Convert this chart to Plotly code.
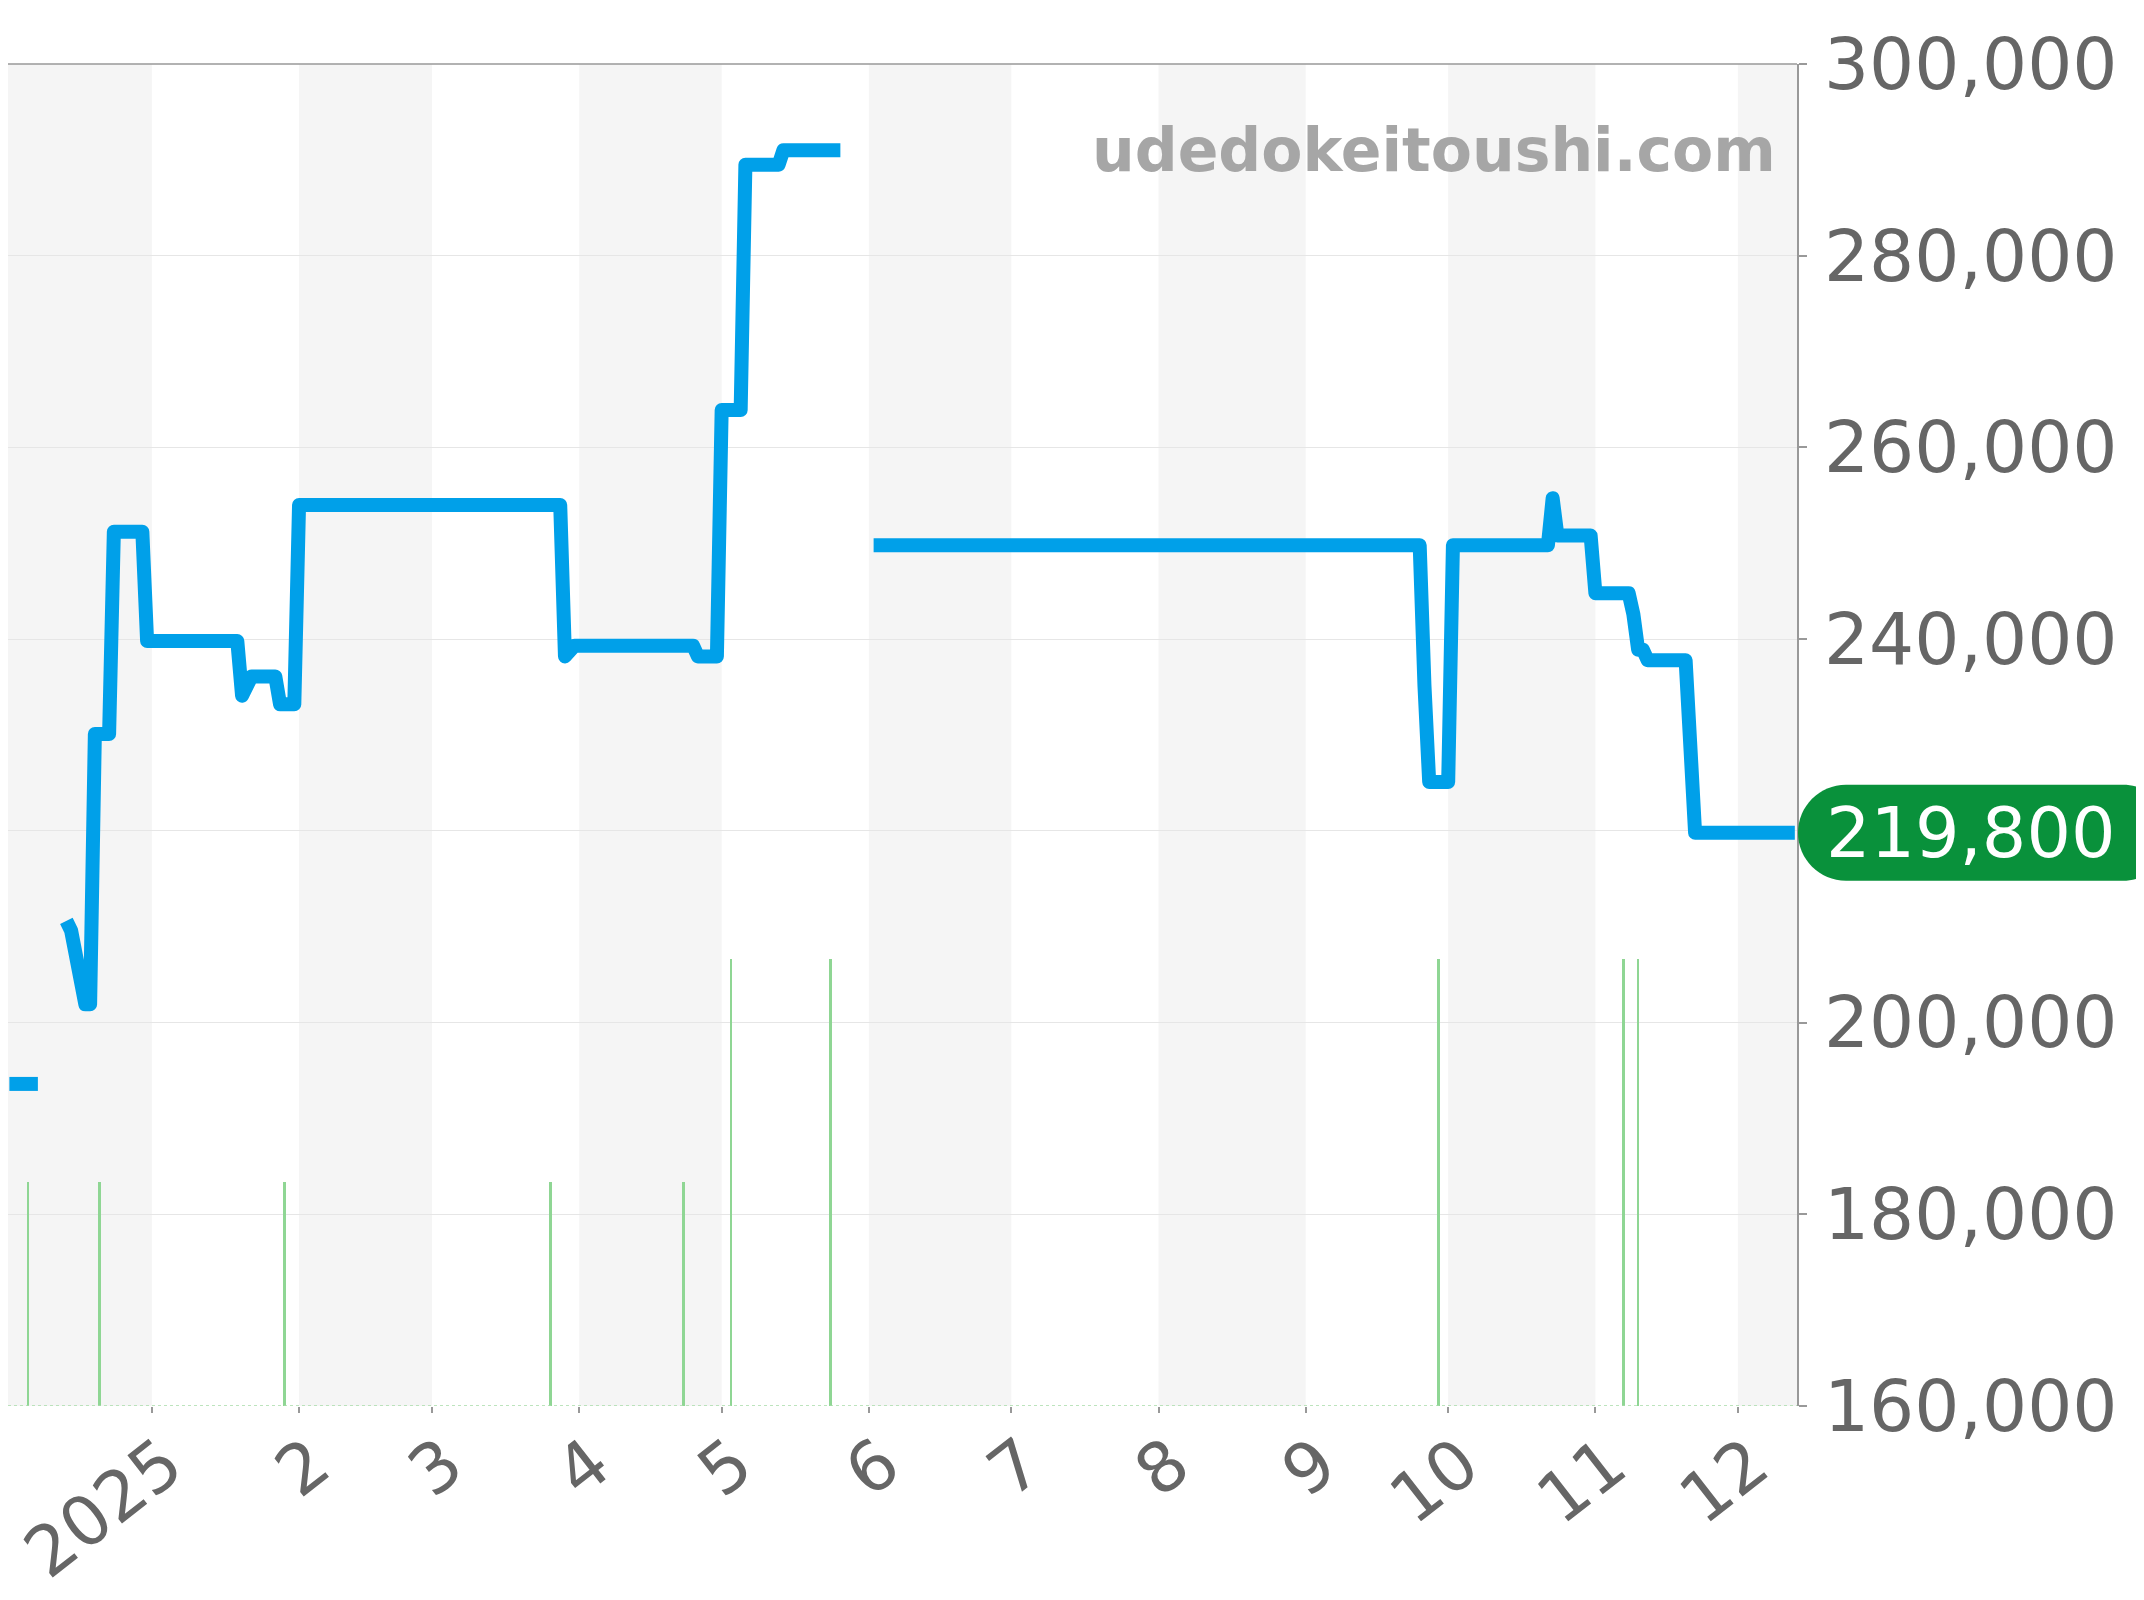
import plotly.graph_objects as go

# ---------------- data ----------------
price_dates = [
    "2024-12-02", "2024-12-08", None,
    "2024-12-14", "2024-12-15", "2024-12-18", "2024-12-19", "2024-12-20",
    "2024-12-23", "2024-12-24", "2024-12-30", "2024-12-31",
    "2025-01-19", "2025-01-20", "2025-01-22", "2025-01-27", "2025-01-28",
    "2025-01-31", "2025-02-01", "2025-03-28", "2025-03-29", "2025-03-31",
    "2025-04-25", "2025-04-26", "2025-04-30", "2025-05-01", "2025-05-05",
    "2025-05-06", "2025-05-13", "2025-05-14", "2025-05-26", None,
    "2025-06-02", "2025-09-25", "2025-09-26", "2025-09-27", "2025-10-01",
    "2025-10-02", "2025-10-22", "2025-10-23", "2025-10-24", "2025-10-31",
    "2025-11-01", "2025-11-08", "2025-11-09", "2025-11-10", "2025-11-11",
    "2025-11-12", "2025-11-20", "2025-11-22", "2025-12-13",
]
price_values = [
    193600, 193600, None,
    210600, 209600, 201900, 201900, 230100,
    230100, 251200, 251200, 239800,
    239800, 234100, 236100, 236100, 233200,
    233200, 254000, 254000, 238200, 239300,
    239300, 238200, 238200, 263900, 263900,
    289500, 289500, 291000, 291000, None,
    249800, 249800, 235200, 225100, 225100,
    249800, 249800, 254700, 250800, 250800,
    244800, 244800, 242600, 238900, 238900,
    237800, 237800, 219800, 219800,
]

count_dates = ["2024-12-06", "2024-12-21", "2025-01-29", "2025-03-26", "2025-04-23",
               "2025-05-03", "2025-05-24", "2025-09-29", "2025-11-07", "2025-11-10"]
count_values = [1, 1, 1, 1, 1, 2, 2, 2, 2, 2]

month_ticks = ["2025-01-01", "2025-02-01", "2025-03-01", "2025-04-01", "2025-05-01",
               "2025-06-01", "2025-07-01", "2025-08-01", "2025-09-01", "2025-10-01",
               "2025-11-01", "2025-12-01"]
month_labels = ["2025", "2", "3", "4", "5", "6", "7", "8", "9", "10", "11", "12"]

x_range = ["2024-12-01 17:00", "2025-12-13 11:00"]
y_range = [160000, 300000]
y_ticks = [160000, 180000, 200000, 220000, 240000, 260000, 280000, 300000]
last_price = 219800
watermark = "udedokeitoushi.com"

# shaded (alternate) months
shade_spans = [
    (x_range[0], "2025-01-01"), ("2025-02-01", "2025-03-01"), ("2025-04-01", "2025-05-01"),
    ("2025-06-01", "2025-07-01"), ("2025-08-01", "2025-09-01"), ("2025-10-01", "2025-11-01"),
    ("2025-12-01", x_range[1]),
]

# ---------------- layout geometry ----------------
OFF = 8                      # page body margin in the browser
W, H = 2144, 1600
# wanted plot box in page pixels
PX0, PX1, PY0, PY1 = 7, 1797, 64, 1406
ML = max(PX0 - OFF, 0)
MT = PY0 - OFF
MR = W - (PX1 - OFF)
MB = H - (PY1 - OFF)
PW = W - ML - MR
PH = H - MT - MB


def page_x(px):
    return (px - OFF - ML) / PW


def page_y(py):
    return 1 - (py - OFF - MT) / PH


GRAY = "#666666"
FONT = "DejaVu Sans"

# tick labels hidden where the price pill sits
y_ticktext = ["" if abs(v - last_price) < 10000 else f"{v:,}" for v in y_ticks]

fig = go.Figure()

fig.add_trace(go.Bar(
    x=count_dates, y=count_values, yaxis="y2",
    width=36000000, marker=dict(color="#8fd694", line=dict(width=0)),
    hoverinfo="skip", showlegend=False,
))

fig.add_trace(go.Scatter(
    x=price_dates, y=price_values, mode="lines",
    line=dict(color="#00a0e9", width=14),
    connectgaps=False, hoverinfo="skip", showlegend=False,
))

shapes = []
for a, b in shade_spans:
    shapes.append(dict(type="rect", xref="x", yref="paper", x0=a, x1=b, y0=0, y1=1,
                       fillcolor="#f5f5f5", line=dict(width=0), layer="below"))
# top border
shapes.append(dict(type="line", xref="paper", yref="paper", x0=0, x1=1, y0=1, y1=1,
                   line=dict(color="#999999", width=1.5)))
# zero baseline of counts (dotted)
shapes.append(dict(type="line", xref="paper", yref="y2", x0=0, x1=1, y0=0, y1=0,
                   line=dict(color="#a8dca8", width=1.5, dash="dot")))

# price pill
yc = (last_price - y_range[0]) / (y_range[1] - y_range[0])
h = 48 / PH
L = page_x(1798)
R = page_x(2171)
r = 48 / PW
k = 0.5523
path = (
    f"M {L + r},{yc + h} L {R - r},{yc + h} "
    f"C {R - r + k * r},{yc + h} {R},{yc + k * h} {R},{yc} "
    f"C {R},{yc - k * h} {R - r + k * r},{yc - h} {R - r},{yc - h} "
    f"L {L + r},{yc - h} "
    f"C {L + r - k * r},{yc - h} {L},{yc - k * h} {L},{yc} "
    f"C {L},{yc + k * h} {L + r - k * r},{yc + h} {L + r},{yc + h} Z"
)
shapes.append(dict(type="path", xref="paper", yref="paper", path=path,
                   fillcolor="#09913b", line=dict(width=0), layer="above"))

annotations = [
    dict(xref="paper", yref="y", x=page_x(1970), y=last_price,
         text=f"{last_price:,}", showarrow=False, xanchor="center", yanchor="middle",
         font=dict(family=FONT, size=70, color="white")),
    dict(xref="paper", yref="paper", x=page_x(1778), y=page_y(150),
         text=f"<b>{watermark}</b>", showarrow=False, xanchor="right", yanchor="middle",
         font=dict(family=FONT, size=60, color="#a6a6a6")),
]

fig.update_layout(
    width=W, height=H,
    margin=dict(l=ML, r=MR, t=MT, b=MB, pad=0, autoexpand=False),
    paper_bgcolor="white", plot_bgcolor="rgba(0,0,0,0)",
    font=dict(family=FONT, color=GRAY),
    showlegend=False, bargap=0,
    shapes=shapes, annotations=annotations,
    xaxis=dict(
        type="date", range=x_range, tickmode="array", tickvals=month_ticks,
        ticktext=month_labels, tickangle=-38, tickfont=dict(size=69, color=GRAY),
        ticks="outside", ticklen=6, tickcolor="#999999", tickwidth=1.5,
        ticklabelshift=14, ticklabelstandoff=-16, ticklabeloverflow="allow",
        showgrid=False, showline=False, zeroline=False, automargin=False,
    ),
    yaxis=dict(
        side="right", range=y_range, tickmode="array", tickvals=y_ticks,
        ticktext=y_ticktext, ticklabeloverflow="allow",
        tickfont=dict(size=71, color=GRAY), ticks="outside", ticklen=8,
        tickcolor="#999999", tickwidth=1.5, showline=True, linecolor="#999999",
        linewidth=1.5, gridcolor="#e6e6e6", gridwidth=1, zeroline=False,
        ticklabelstandoff=3, automargin=False,
    ),
    yaxis2=dict(overlaying="y", range=[0, 6], visible=False, showgrid=False),
)

post = """
var st = document.createElement('style');
st.innerHTML = '.scatterlayer .js-line { stroke-linejoin: round !important; }';
document.head.appendChild(st);
"""

fig.write_html("out.html", post_script=post)
